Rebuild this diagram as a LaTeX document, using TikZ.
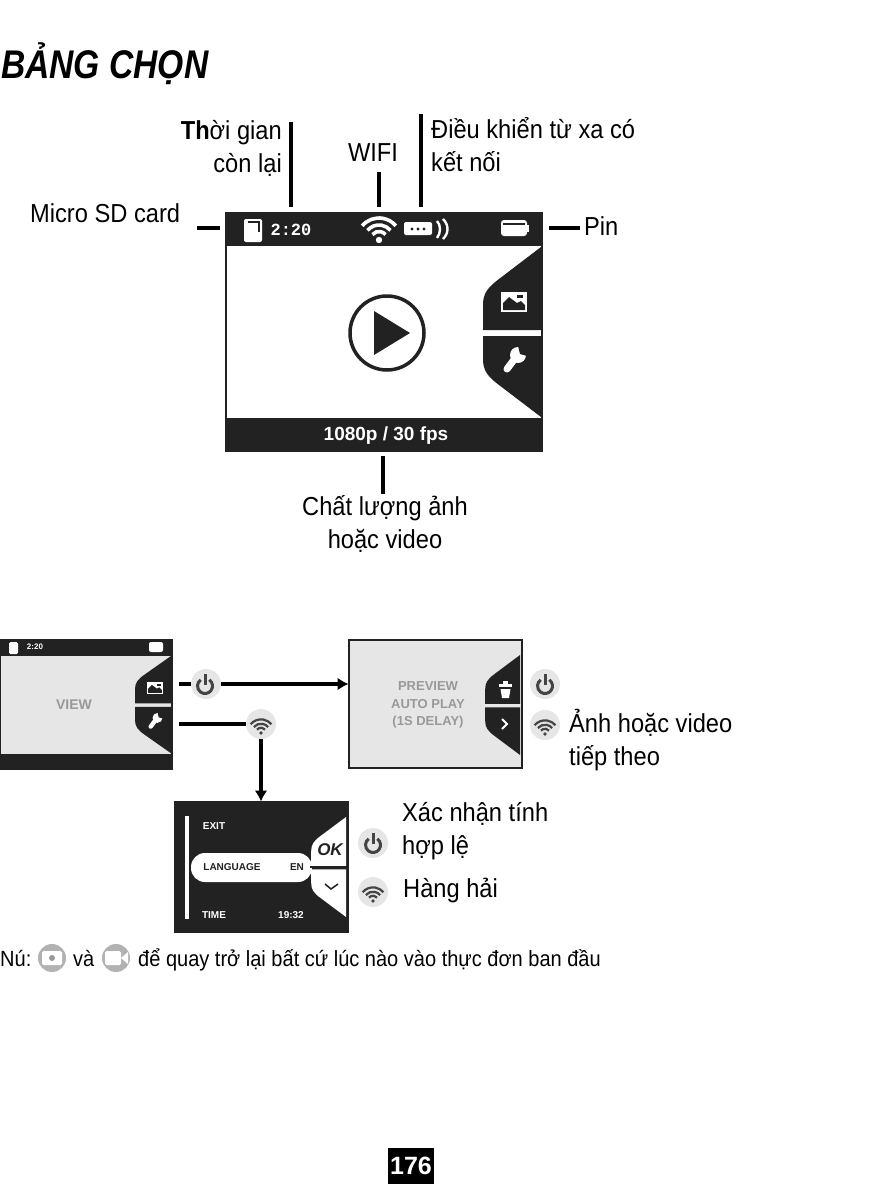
\documentclass[tikz,border=0pt]{standalone}
\usepackage{fontspec}
\setmainfont{Liberation Sans}
\setmonofont{Liberation Mono}
\newfontfamily\labelFont[FakeStretch=0.91]{Liberation Sans}
\newfontfamily\titleFont[FakeStretch=0.84]{Liberation Sans}
\usetikzlibrary{arrows.meta}
\definecolor{barDark}{HTML}{222222}
\definecolor{panelGrey}{HTML}{E6E6E6}
\definecolor{textGrey}{HTML}{999999}
\definecolor{iconGrey}{HTML}{444444}
% tab pair: (#1,#2) right edge and top, #3 width factor, #4 height factor, #5 fill
\newcommand{\menuTabs}[5]{%
  \begin{scope}[shift={(#1,#2)},xscale=#3,yscale=#4]
    \fill[#5] (0,0) -- (-42,32) .. controls (-54,41) and (-58,47) .. (-58,58) -- (-58,83) -- (0,83) -- cycle;
    \fill[#5] (0,170) -- (-42,138) .. controls (-54,129) and (-58,123) .. (-58,112) -- (-58,89) -- (0,89) -- cycle;
  \end{scope}}
\newcommand{\wifiGlyph}[4]{% dot at (#1,#2), scale #3, colour #4
  \begin{scope}[shift={(#1,#2)},scale=#3]
    \fill[#4] (0,0) circle[radius=3.2];
    \foreach \r in {8.5,15,22}
      \draw[#4,line width=#3*3.6pt] (220:\r) arc[start angle=220,end angle=320,radius=\r];
  \end{scope}}
\newcommand{\powerGlyph}[2]{%
  \begin{scope}[shift={(#1,#2)}]
    \draw[iconGrey,line width=3pt] (-55:7.5) arc[start angle=-55,end angle=235,radius=7.5];
    \draw[iconGrey,line width=3pt] (0,-12) -- (0,-1);
  \end{scope}}
\newcommand{\wrenchGlyph}[3]{%
  \begin{scope}[shift={(#1,#2)},scale=#3]
    \draw[white,line width=#3*7pt,line cap=round] (-7,9) -- (2,-3);
    \fill[white] (4,-5) circle[radius=8];
    \fill[barDark] (4,-14) -- (6,-6) -- (13,-4) -- (14,-14) -- cycle;
  \end{scope}}
\newcommand{\imageGlyph}[3]{%
  \begin{scope}[shift={(#1,#2)},scale=#3]
    \fill[white] (-13,-10) rectangle (13,10);
    \fill[barDark] (-11,8) -- (-11,1) -- (-5,-5) -- (3,1) -- (7,-1) -- (11,3) -- (11,8) -- cycle;
    \fill[barDark] (3,-7) rectangle (9,-4);
  \end{scope}}
\begin{document}
\begin{tikzpicture}[x=1pt,y=-1pt,
  menuLabel/.style={font=\labelFont\fontsize{26}{33}\selectfont,inner sep=0pt,text=black},
  noteText/.style={font=\labelFont\fontsize{22}{24}\selectfont,inner sep=0pt,anchor=base west},
  leader/.style={line width=3.4pt,black},
  linkArrow/.style={line width=3.4pt,black,-{Latex[length=11pt,width=13pt]}},
  keyDisc/.style={shape=circle,fill=panelGrey,inner sep=0pt,outer sep=0pt,minimum size=30pt},
  smallDisc/.style={shape=circle,fill=textGrey!75,inner sep=0pt,outer sep=0pt,minimum size=28pt},
  screen/.style={shape=rectangle,draw=barDark,line width=2pt,fill=panelGrey,inner sep=0pt,outer sep=0pt},
  screenText/.style={font=\bfseries\fontsize{13}{17.5}\selectfont,text=textGrey,inner sep=0pt,align=center},
  miniText/.style={font=\bfseries\fontsize{10}{12}\selectfont,text=white,inner sep=0pt}]
\useasboundingbox (0,0) rectangle (885,1184);
\node[inner sep=0pt,anchor=base west,font=\titleFont\bfseries\itshape\fontsize{40}{44}\selectfont] (menuTitle) at (1,78) {BẢNG CHỌN};
% main screen
\node[screen,fill=white,minimum width=316pt,minimum height=238pt] (mainScreen) at (384,332) {};
\fill[barDark] (225,212) rectangle (543,246);
\fill[barDark] (225,418) rectangle (543,452);
\menuTabs{541}{247}{1}{1}{barDark}
\fill[white,rounded corners=2pt] (244,219) rectangle (262,242);
\draw[barDark,line width=1.4pt] (248,222) -- (259,222) -- (259,232);
\node[inner sep=0pt,text=white,font=\ttfamily\bfseries\fontsize{17}{20}\selectfont] (timeText) at (291,230) {2:20};
\wifiGlyph{379}{240}{1}{white}
\fill[white,rounded corners=2pt] (404,222) rectangle (432,235);
\foreach \x in {412,418,424} \fill[barDark] (\x,229) circle[radius=1.6];
\draw[white,line width=2.4pt] (437,221) .. controls (441,225) and (441,233) .. (437,238);
\draw[white,line width=2.4pt] (443,219) .. controls (449,225) and (449,233) .. (443,239);
\fill[white,rounded corners=3pt] (501,220) rectangle (527,236);
\fill[white] (526,225) rectangle (529,232);
\fill[barDark] (503,223) rectangle (525,224.5);
\imageGlyph{514}{302}{1}
\wrenchGlyph{514}{360}{1}
\draw[barDark,line width=3.5pt] (387,333) circle[radius=37];
\fill[barDark] (374,311) -- (410,333) -- (374,355) -- cycle;
\node[inner sep=0pt,text=white,font=\bfseries\fontsize{19}{21}\selectfont] (qualityText) at (386,436) {1080p / 30 fps};
% callouts of the main screen
\node[menuLabel,align=right,anchor=east] (timeLabel) at (282,148) {\textbf{Th}ời gian\\còn lại};
\node[menuLabel] (wifiLabel) at (373,153) {WIFI};
\node[menuLabel,align=left,anchor=west] (remoteLabel) at (431,145) {Điều khiển từ xa có\\kết nối};
\node[menuLabel,anchor=west] (sdLabel) at (30,213) {Micro SD card};
\node[menuLabel,anchor=west] (pinLabel) at (584,226) {Pin};
\node[menuLabel,align=center] (qualityLabel) at (385,524) {Chất lượng ảnh\\hoặc video};
\coordinate (timeTop) at (291,122);
\coordinate (timeEnd) at (291,207);
\coordinate (wifiTop) at (379,172);
\coordinate (wifiEnd) at (379,207);
\coordinate (remoteTop) at (421,114);
\coordinate (remoteEnd) at (421,207);
\coordinate (sdStart) at (197,228);
\coordinate (sdEnd) at (220,228);
\coordinate (pinStart) at (549,228);
\coordinate (pinEnd) at (580,228);
\coordinate (qualityStart) at (383,456);
\coordinate (qualityEnd) at (383,494);
\draw[leader] (timeTop) -- (timeEnd);
\draw[leader] (wifiTop) -- (wifiEnd);
\draw[leader] (remoteTop) -- (remoteEnd);
\draw[leader] (sdStart) -- (sdEnd);
\draw[leader] (pinStart) -- (pinEnd);
\draw[leader] (qualityStart) -- (qualityEnd);
% view screen
\node[screen,minimum width=172pt,minimum height=129pt] (viewScreen) at (86,704) {};
\fill[barDark] (0,639) rectangle (173,656);
\fill[barDark] (0,754) rectangle (173,769);
\menuTabs{171}{656}{0.62}{0.572}{barDark}
\fill[white,rounded corners=1.5pt] (9,642) rectangle (18,654);
\node[miniText,font=\bfseries\fontsize{8}{9}\selectfont] (viewTime) at (35,647) {2:20};
\fill[white,rounded corners=2pt] (149,642) rectangle (163,652);
\imageGlyph{155}{688}{0.62}
\wrenchGlyph{155}{721}{0.62}
\node[screenText,font=\bfseries\fontsize{14}{16}\selectfont] (viewText) at (74,705) {VIEW};
% preview screen
\node[screen,minimum width=173pt,minimum height=128pt] (previewScreen) at (435,704) {};
\menuTabs{520}{655}{0.6}{0.588}{barDark}
\node[screenText] (previewText) at (428,705) {PREVIEW\\AUTO PLAY\\(1S DELAY)};
\fill[white] (499,684) rectangle (512,687);
\fill[white] (503,681) rectangle (508,685);
\fill[white] (500.5,689) -- (510.5,689) -- (509,698) -- (502,698) -- cycle;
\draw[white,line width=2pt] (502,719) -- (507,724) -- (502,729);
% settings screen
\node[screen,fill=barDark,minimum width=173pt,minimum height=130pt] (setupScreen) at (261,866.5) {};
\menuTabs{346}{817}{0.6}{0.588}{white}
\fill[white] (185,816) rectangle (189,919);
\fill[white,rounded corners=14pt] (191,853) rectangle (312,882);
\draw[barDark,line width=1.5pt] (310,867) -- (346,867);
\node[miniText] (exitText) at (214,826) {EXIT};
\node[miniText,text=barDark] (langText) at (232,867) {LANGUAGE};
\node[miniText,text=barDark] (langValue) at (297,867) {EN};
\node[miniText] (clockText) at (214,915) {TIME};
\node[miniText] (clockValue) at (291,915) {19:32};
\node[inner sep=0pt,text=barDark,font=\bfseries\itshape\fontsize{17}{19}\selectfont] (okText) at (330,850) {OK};
\draw[barDark,line width=1.5pt] (325,884) -- (331,889) -- (338,884);
% links
\node[keyDisc] (viewPower) at (206,684) {};
\node[keyDisc] (viewWifi) at (261,724) {};
\coordinate (viewPowerStart) at (179,684);
\coordinate (viewWifiStart) at (179,724);
\draw[leader] (viewPowerStart) -- (viewPower);
\draw[linkArrow] (viewPower) -- (previewScreen.west |- viewPower);
\draw[leader] (viewWifiStart) -- (viewWifi);
\draw[linkArrow] (viewWifi) -- (viewWifi |- setupScreen.north);
\powerGlyph{205}{686}
\wifiGlyph{261}{733}{0.62}{iconGrey}
% keys beside the screens
\node[keyDisc] (previewPower) at (545,684) {};
\node[keyDisc] (previewWifi) at (545,725) {};
\powerGlyph{545}{686}
\wifiGlyph{545}{734}{0.62}{iconGrey}
\node[menuLabel,align=left,anchor=west] (nextLabel) at (569,740) {Ảnh hoặc video\\tiếp theo};
\node[keyDisc] (setupPower) at (373,843) {};
\node[keyDisc] (setupWifi) at (373,892) {};
\powerGlyph{373}{845}
\wifiGlyph{373}{901}{0.62}{iconGrey}
\node[menuLabel,align=left,anchor=west] (confirmLabel) at (402,831) {Xác nhận tính\\hợp lệ};
\node[menuLabel,anchor=west] (navLabel) at (403,890) {Hàng hải};
% note
\node[noteText] (noteStart) at (0,966) {Nú:};
\node[smallDisc] (photoKey) at (52,958) {};
\fill[white,rounded corners=1.5pt] (42,951) rectangle (62,965);
\fill[textGrey] (52,958) circle[radius=3];
\node[noteText] (noteAnd) at (73,966) {và};
\node[smallDisc] (videoKey) at (116,958) {};
\fill[white,rounded corners=1.5pt] (105,951) rectangle (121,965);
\fill[white] (121,958) -- (128,952) -- (128,964) -- cycle;
\node[noteText] (noteEnd) at (138,966) {để quay trở lại bất cứ lúc nào vào thực đơn ban đầu};
% page number
\node[shape=rectangle,fill=black,text=white,inner sep=0pt,minimum width=46pt,minimum height=36pt,font=\bfseries\fontsize{25}{30}\selectfont] (pageNumber) at (411,1166) {176};
\end{tikzpicture}
\end{document}
